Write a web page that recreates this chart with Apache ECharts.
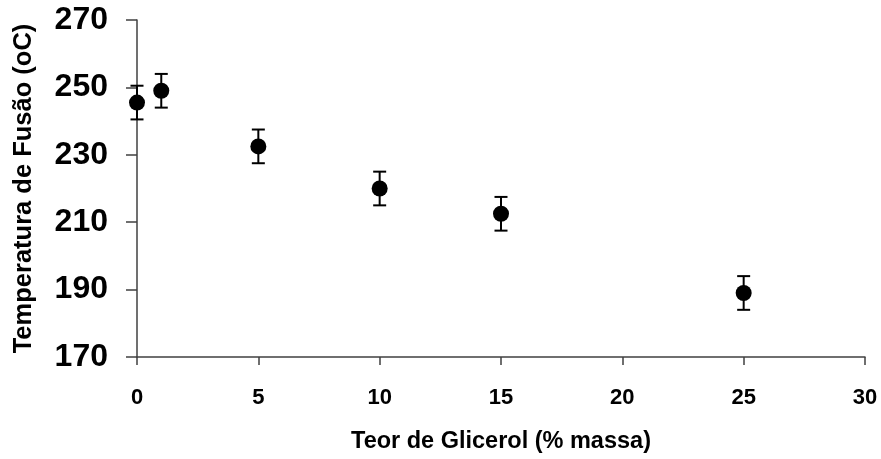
<!DOCTYPE html>
<html>
<head>
<meta charset="utf-8">
<script src="https://cdn.jsdelivr.net/npm/echarts@6/dist/echarts.min.js"></script>
<style>
  html, body { margin: 0; padding: 0; background: #fff; }
  #chart { width: 881px; height: 459px; }
</style>
</head>
<body>
<div id="chart"></div>
<script>
// Glycerol content (% by mass) vs. melting temperature (°C) with ± error
const glycerol = [0, 1, 5, 10, 15, 25];
const meltTemp = [245.5, 249, 232.5, 220, 212.5, 189];
const errLow = [5, 5, 5, 5, 5, 5];
const errHigh = [5, 5, 5, 5, 5, 5];

const FONT = '"Liberation Sans", Arial, sans-serif';

const points = glycerol.map((x, i) => [x, meltTemp[i]]);
const bars = glycerol.map((x, i) => [x, meltTemp[i] - errLow[i], meltTemp[i] + errHigh[i]]);

const chart = echarts.init(document.getElementById('chart'), null, { renderer: 'canvas' });

chart.setOption({
  animation: false,
  backgroundColor: '#ffffff',
  grid: {
    left: 137, right: 16, top: 20, bottom: 102,
    containLabel: false,
    outerBoundsMode: 'none'
  },
  xAxis: {
    type: 'value',
    min: 0, max: 30, interval: 5,
    name: 'Teor de Glicerol (% massa)',
    nameLocation: 'middle',
    nameGap: 73,
    nameTextStyle: { fontFamily: FONT, fontWeight: 'bold', fontSize: 23.5, color: '#000' },
    axisLine: { show: true, lineStyle: { color: '#404040', width: 1.5 } },
    axisTick: { show: true, inside: false, length: 8, lineStyle: { color: '#404040', width: 1.5 } },
    axisLabel: { fontFamily: FONT, fontWeight: 'bold', fontSize: 22, color: '#000', margin: 30 },
    splitLine: { show: false }
  },
  yAxis: {
    type: 'value',
    min: 170, max: 270, interval: 20,
    name: 'Temperatura de Fusão (oC)',
    nameLocation: 'middle',
    nameGap: 100,
    nameRotate: 90,
    nameTextStyle: { fontFamily: FONT, fontWeight: 'bold', fontSize: 25.5, color: '#000' },
    axisLine: { show: true, lineStyle: { color: '#404040', width: 1.5 } },
    axisTick: { show: true, inside: false, length: 11, lineStyle: { color: '#404040', width: 1.5 } },
    axisLabel: { fontFamily: FONT, fontWeight: 'bold', fontSize: 32, color: '#000', margin: 29 },
    splitLine: { show: false }
  },
  series: [
    {
      type: 'custom',
      clip: false,
      data: bars,
      z: 3,
      renderItem: function (params, api) {
        const x = api.value(0);
        const lo = api.coord([x, api.value(1)]);
        const hi = api.coord([x, api.value(2)]);
        const half = 6.5;
        const style = { stroke: '#000', lineWidth: 2 };
        return {
          type: 'group',
          children: [
            { type: 'line', shape: { x1: lo[0], y1: lo[1], x2: hi[0], y2: hi[1] }, style: style },
            { type: 'line', shape: { x1: lo[0] - half, y1: lo[1], x2: lo[0] + half, y2: lo[1] }, style: style },
            { type: 'line', shape: { x1: hi[0] - half, y1: hi[1], x2: hi[0] + half, y2: hi[1] }, style: style }
          ]
        };
      }
    },
    {
      type: 'scatter',
      clip: false,
      data: points,
      symbol: 'circle',
      symbolSize: 16,
      itemStyle: { color: '#000', opacity: 1 },
      z: 4
    }
  ]
});
</script>
</body>
</html>
